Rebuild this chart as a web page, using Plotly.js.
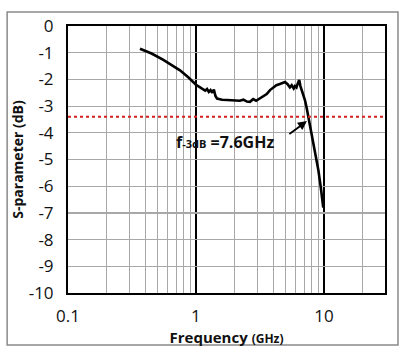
<!DOCTYPE html>
<html>
<head>
<meta charset="utf-8">
<script src="https://cdn.plot.ly/plotly-3.0.1.min.js"></script>
<style>html,body{margin:0;padding:0;background:#fff;}#chart{width:408px;height:354px;}</style>
</head>
<body>
<div id="chart"></div>
<script>
const freqGHz = [0.365, 0.45, 0.556, 0.65, 0.75, 0.87, 1.0, 1.1, 1.18, 1.22, 1.26, 1.3, 1.34, 1.38, 1.42, 1.46, 1.5, 1.6, 1.75, 1.9, 2.05, 2.2, 2.35, 2.5, 2.64, 2.8, 2.95, 3.16, 3.35, 3.57, 3.79, 4.0, 4.25, 4.53, 4.75, 4.96, 5.2, 5.42, 5.6, 5.8, 5.94, 6.1, 6.25, 6.41, 6.55, 6.7, 6.9, 7.11, 7.35, 7.55, 7.9, 8.26, 8.65, 9.04, 9.45, 9.88];
const sParamDB = [-0.85, -1.03, -1.27, -1.46, -1.66, -1.92, -2.2, -2.33, -2.42, -2.36, -2.47, -2.40, -2.50, -2.38, -2.62, -2.72, -2.74, -2.76, -2.77, -2.79, -2.78, -2.80, -2.76, -2.83, -2.84, -2.74, -2.80, -2.72, -2.64, -2.55, -2.40, -2.30, -2.22, -2.17, -2.14, -2.10, -2.18, -2.30, -2.22, -2.34, -2.25, -2.30, -2.15, -2.02, -2.25, -2.40, -2.55, -2.78, -3.1, -3.40, -3.9, -4.39, -4.9, -5.39, -6.05, -6.8];
const thresholdDB = -3.4;
const f3dBGHz = 7.6;
const xTickVals = [0.1, 1, 10];
const xTickText = ['0.1', '1', '10'];
const yTickVals = [0, -1, -2, -3, -4, -5, -6, -7, -8, -9, -10];

const font = 'Open Sans, Noto Sans, sans-serif';

const trace = {
  x: freqGHz, y: sParamDB, type: 'scatter', mode: 'lines',
  line: {color: '#000', width: 2.6}, hoverinfo: 'skip'
};

const layout = {
  width: 408, height: 354,
  margin: {l: 68, r: 23, t: 26, b: 61},
  paper_bgcolor: '#fff', plot_bgcolor: '#fff',
  showlegend: false,
  font: {family: font, color: '#111'},
  xaxis: {
    type: 'log', range: [-1, Math.log10(30)],
    tickvals: xTickVals, ticktext: xTickText,
    showgrid: true, gridcolor: '#000', gridwidth: 1.5,
    minor: {dtick: 'D1', showgrid: true, gridcolor: '#a8a8a8', gridwidth: 1, ticks: ''},
    showline: true, linecolor: '#000', linewidth: 2, mirror: true,
    ticks: '', ticklabelstandoff: 7, zeroline: false,
    tickfont: {size: 17, family: font, color: '#111'},
    title: {text: '<b>Frequency</b> <b><span style="font-size:12px">(GHz)</span></b>', font: {size: 15, family: font, color: '#111'}, standoff: 0},
    automargin: false
  },
  yaxis: {
    range: [-10, 0], tickvals: yTickVals, ticktext: yTickVals.map(String),
    showgrid: true, gridcolor: '#a8a8a8', gridwidth: 1.2,
    showline: true, linecolor: '#000', linewidth: 2, mirror: true,
    ticks: '', ticklabelstandoff: 9, zeroline: false,
    tickfont: {size: 17, family: font, color: '#111'},
    title: {text: '<b>S-parameter (dB)</b>', font: {size: 14, family: font, color: '#111'}, standoff: 2},
    automargin: false
  },
  shapes: [
    {type: 'line', xref: 'paper', x0: 0, x1: 1, yref: 'y', y0: thresholdDB, y1: thresholdDB,
     line: {color: '#d42020', width: 2, dash: 'dot'}},
    {type: 'rect', xref: 'paper', yref: 'paper', x0: -0.192, x1: 1.041, y0: -0.195, y1: 1.052,
     line: {color: '#8a8a8a', width: 1.5}, fillcolor: 'rgba(0,0,0,0)'}
  ],
  annotations: [
    {x: Math.log10(7.36), y: -3.56, xref: 'x', yref: 'y', text: '', showarrow: true,
     arrowhead: 2, arrowsize: 1, arrowwidth: 1.8, arrowcolor: '#000', ax: -19, ay: 14, standoff: 0},
    {x: Math.log10(1.69), y: -4.34, xref: 'x', yref: 'y', showarrow: false,
     text: '<b>f<span style="font-size:11px">-3dB</span> =' + f3dBGHz + 'GHz</b>',
     font: {size: 16, family: font, color: '#111'}}
  ]
};

Plotly.newPlot('chart', [trace], layout, {staticPlot: true, displayModeBar: false});
</script>
</body>
</html>
